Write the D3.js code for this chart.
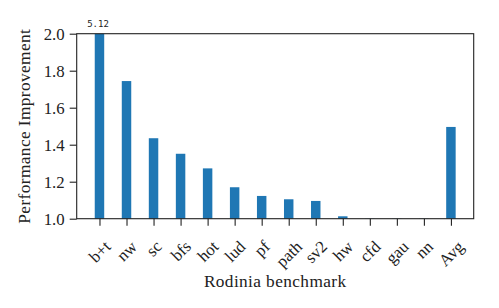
<!DOCTYPE html>
<html>
<head>
<meta charset="utf-8">
<script src="https://cdn.jsdelivr.net/npm/d3@7/dist/d3.min.js"></script>
<style>
  html, body { margin: 0; padding: 0; background: #fff; }
  svg { display: block; }
  text { font-family: "Liberation Serif", "Times New Roman", serif; fill: #222; }
</style>
</head>
<body>
<svg id="chart" width="499" height="308"></svg>
<script>
const categories = ["b+t", "nw", "sc", "bfs", "hot", "lud", "pf", "path", "sv2", "hw", "cfd", "gau", "nn", "Avg"];
const values = [5.12, 1.744, 1.435, 1.351, 1.272, 1.170, 1.123, 1.105, 1.096, 1.013, 1.0, 1.0, 1.0, 1.496];
const yTicks = [1.0, 1.2, 1.4, 1.6, 1.8, 2.0];
const annotationText = "5.12";
const xLabel = "Rodinia benchmark";
const yLabel = "Performance Improvement";

(function () {
const svg = d3.select("#chart");
const pL = 76.7, pR = 473.7, pT = 33.7, pB = 218.7;
const barW = 0.35;
const n = categories.length;
const span = (n - 1) + barW;
const pad = span * 0.05;
const x = d3.scaleLinear().domain([-barW / 2 - pad, n - 1 + barW / 2 + pad]).range([pL, pR]);
const y = d3.scaleLinear().domain([1.0, 2.0]).range([pB, pT]);

svg.append("clipPath").attr("id", "plotclip")
  .append("rect").attr("x", pL).attr("y", pT).attr("width", pR - pL).attr("height", pB - pT);

svg.append("g").attr("clip-path", "url(#plotclip)")
  .selectAll("rect").data(values).join("rect")
  .attr("x", (d, i) => x(i - barW / 2))
  .attr("width", (d, i) => x(i + barW / 2) - x(i - barW / 2))
  .attr("y", d => y(d))
  .attr("height", d => Math.max(0, y(0) - y(d)))
  .attr("fill", "#1f77b4");

// Y axis
const yAxis = d3.axisLeft(y).tickValues(yTicks).tickFormat(d3.format(".1f")).tickSize(7).tickPadding(5);
const gy = svg.append("g").attr("transform", `translate(${pL},0)`).call(yAxis);
gy.select(".domain").remove();
gy.selectAll("line").attr("stroke", "#222").attr("stroke-width", 1.1);
gy.selectAll("text").attr("font-size", "16.8px").style("font-family", "Liberation Serif, serif").style("fill", "#222");

// X axis
const xAxis = d3.axisBottom(x).tickValues(d3.range(n)).tickFormat(i => categories[i]).tickSize(7).tickPadding(5);
const gx = svg.append("g").attr("transform", `translate(0,${pB})`).call(xAxis);
gx.select(".domain").remove();
gx.selectAll("line").attr("stroke", "#222").attr("stroke-width", 1.1);
gx.selectAll(".tick text")
  .attr("font-size", "16.8px").style("font-family", "Liberation Serif, serif").style("fill", "#222")
  .attr("text-anchor", "middle").attr("dy", "0.32em").attr("y", 0)
  .attr("transform", "rotate(-45)");
gx.selectAll(".tick").each(function(d) {
  const t = d3.select(this).select("text");
  const bb = this.querySelector("text").getBoundingClientRect();
  const h = bb.height;
  t.attr("transform", `translate(0,${237 - pB + h / 2}) rotate(-45)`);
});

// spines
svg.append("rect").attr("x", pL).attr("y", pT).attr("width", pR - pL).attr("height", pB - pT)
  .attr("fill", "none").attr("stroke", "#222").attr("stroke-width", 1.1);

// annotation
svg.append("text").attr("x", x(0) - 1.5).attr("y", 26.5).attr("text-anchor", "middle")
  .style("font-family", "'DejaVu Sans Mono', 'Liberation Mono', monospace").attr("font-size", "9px").style("fill", "#222")
  .text(annotationText);

// labels
svg.append("text").attr("x", (pL + pR) / 2).attr("y", 287.3).attr("text-anchor", "middle")
  .attr("font-size", "17.3px").attr("letter-spacing", "0.4px").text(xLabel);
svg.append("text").attr("transform", `translate(29.5,${(pT + pB) / 2}) rotate(-90)`)
  .attr("text-anchor", "middle").attr("font-size", "17.3px").attr("letter-spacing", "0.4px").text(yLabel);
})();
</script>
</body>
</html>
